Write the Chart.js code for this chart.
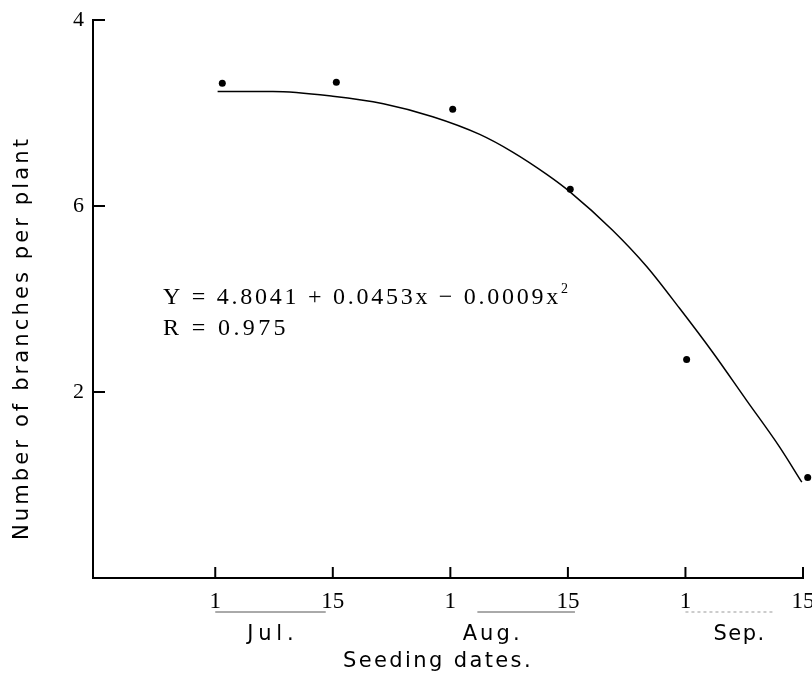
<!DOCTYPE html>
<html>
<head>
<meta charset="utf-8">
<script src="https://cdn.jsdelivr.net/npm/chart.js@4"></script>
<style>
  html, body { margin: 0; padding: 0; background: #fff; }
  #wrap { width: 812px; height: 679px; }
</style>
</head>
<body>
<div id="wrap"><canvas id="chart" width="812" height="679"></canvas></div>
<script>
// half-month steps: 0 = Jul 1, 1 = Jul 15, 2 = Aug 1 ...
const xTickPos = [0, 1, 2, 3, 4, 5];
const xTickLabels = ['1', '15', '1', '15', '1', '15'];
const yTickPos = [2, 4, 6];
const yTickLabels = ['2', '6', '4'];

const months = ['Jul.', 'Aug.', 'Sep.'];
const monthPos = [0.49, 2.36, 4.46];
const monthLineFrom = [0, 2.23, 4.0];
const monthLineTo = [0.94, 3.06, 4.74];

// observed points
const obsX = [0.06, 1.03, 2.02, 3.02, 4.01, 5.04];
const obsY = [5.32, 5.33, 5.04, 4.18, 2.35, 1.08];

// fitted curve
const fitX = [0.02, 0.49, 1.00, 1.43, 1.85, 2.25, 2.53, 2.82, 3.02, 3.38, 3.67, 3.95, 4.23, 4.52, 4.80, 4.99];
const fitY = [5.23, 5.23, 5.18, 5.10, 4.96, 4.77, 4.58, 4.34, 4.15, 3.74, 3.35, 2.90, 2.43, 1.91, 1.41, 1.03];

const eqLine1 = 'Y = 4.8041 + 0.0453x \u2212 0.0009x';
const eqLine2 = 'R = 0.975';
const xTitle = 'Seeding dates.';
const yTitle = 'Number of branches per plant';

const serif = '"Liberation Serif", "DejaVu Serif", serif';
const sans = '"DejaVu Sans", sans-serif';

// set letter spacing so the text spans a given width
function fitText(ctx, text, width) {
  ctx.letterSpacing = '0px';
  const w = ctx.measureText(text).width;
  ctx.letterSpacing = ((width - w) / text.length) + 'px';
}

const extras = {
  id: 'extras',
  afterDraw(chart) {
    const ctx = chart.ctx;
    const xs = chart.scales.x;
    const ys = chart.scales.y;
    const bottom = chart.chartArea.bottom;
    const left = chart.chartArea.left;

    ctx.save();
    ctx.strokeStyle = '#000';
    ctx.lineWidth = 2;
    // inward tick marks
    xTickPos.forEach(v => {
      const px = xs.getPixelForValue(v);
      ctx.beginPath();
      ctx.moveTo(px, bottom);
      ctx.lineTo(px, bottom - 11);
      ctx.stroke();
    });
    yTickPos.forEach(v => {
      const py = ys.getPixelForValue(v);
      ctx.beginPath();
      ctx.moveTo(left, py);
      ctx.lineTo(left + 12, py);
      ctx.stroke();
    });

    // month underlines
    ctx.lineWidth = 1;
    months.forEach((m, i) => {
      ctx.strokeStyle = i === 2 ? '#999' : '#555';
      ctx.setLineDash(i === 2 ? [3, 3] : []);
      ctx.beginPath();
      ctx.moveTo(xs.getPixelForValue(monthLineFrom[i]), bottom + 34);
      ctx.lineTo(xs.getPixelForValue(monthLineTo[i]), bottom + 34);
      ctx.stroke();
    });
    ctx.setLineDash([]);

    ctx.fillStyle = '#000';
    ctx.textBaseline = 'middle';
    ctx.textAlign = 'left';
    ctx.font = '21px ' + sans;
    const monthW = [51, 60, 52];
    months.forEach((m, i) => {
      fitText(ctx, m, monthW[i]);
      ctx.fillText(m, xs.getPixelForValue(monthPos[i]) - monthW[i] / 2, bottom + 57);
    });

    // x title
    ctx.font = '21px ' + sans;
    fitText(ctx, xTitle, 190);
    ctx.fillText(xTitle, 343, 662);

    // y title
    ctx.save();
    ctx.translate(23, 540);
    ctx.rotate(-Math.PI / 2);
    ctx.font = '21px ' + sans;
    fitText(ctx, yTitle, 404);
    ctx.fillText(yTitle, 0, 0);
    ctx.restore();

    // equation
    ctx.font = '24px ' + serif;
    fitText(ctx, eqLine1, 398);
    ctx.fillText(eqLine1, 163, 298);
    const w1 = ctx.measureText(eqLine1).width;
    ctx.font = '14px ' + serif;
    ctx.letterSpacing = '0px';
    ctx.fillText('2', 163 + w1, 289);
    ctx.font = '24px ' + serif;
    fitText(ctx, eqLine2, 126);
    ctx.fillText(eqLine2, 163, 329);
    ctx.restore();
  }
};

new Chart(document.getElementById('chart'), {
  type: 'scatter',
  data: {
    datasets: [
      {
        label: 'observed',
        data: obsX.map((x, i) => ({ x: x, y: obsY[i] })),
        pointRadius: 3.5,
        pointBackgroundColor: '#000',
        // transparent border widens the in-area margin so the Sep 15 dot is drawn
        pointBorderWidth: 3,
        pointBorderColor: 'rgba(0,0,0,0)',
        showLine: false
      },
      {
        label: 'fit',
        data: fitX.map((x, i) => ({ x: x, y: fitY[i] })),
        showLine: true,
        borderColor: '#000',
        borderWidth: 1.5,
        pointRadius: 0,
        cubicInterpolationMode: 'monotone',
        fill: false
      }
    ]
  },
  options: {
    responsive: false,
    animation: false,
    clip: false,
    layout: { autoPadding: false, padding: { top: 20, right: 9, left: 0, bottom: 0 } },
    plugins: {
      legend: { display: false },
      tooltip: { enabled: false }
    },
    scales: {
      x: {
        type: 'linear',
        min: -1.04,
        max: 5,
        grid: { display: false, drawTicks: false },
        border: { display: true, color: '#000', width: 2 },
        afterBuildTicks: s => { s.ticks = xTickPos.map(v => ({ value: v })); },
        afterFit: s => { s.height = 101; s.paddingLeft = 0; s.paddingRight = 0; },
        ticks: {
          color: '#000',
          padding: 10,
          maxRotation: 0,
          autoSkip: false,
          font: { family: serif, size: 23 },
          callback: (v) => xTickLabels[xTickPos.indexOf(v)]
        }
      },
      y: {
        type: 'linear',
        min: 0,
        max: 6,
        grid: { display: false, drawTicks: false },
        border: { display: true, color: '#000', width: 2 },
        afterBuildTicks: s => { s.ticks = yTickPos.map(v => ({ value: v })); },
        afterFit: s => { s.width = 93; s.paddingTop = 0; s.paddingBottom = 0; },
        ticks: {
          color: '#000',
          padding: 9,
          font: { family: serif, size: 22 },
          callback: (v) => yTickLabels[yTickPos.indexOf(v)]
        }
      }
    }
  },
  plugins: [extras]
});
</script>
</body>
</html>
